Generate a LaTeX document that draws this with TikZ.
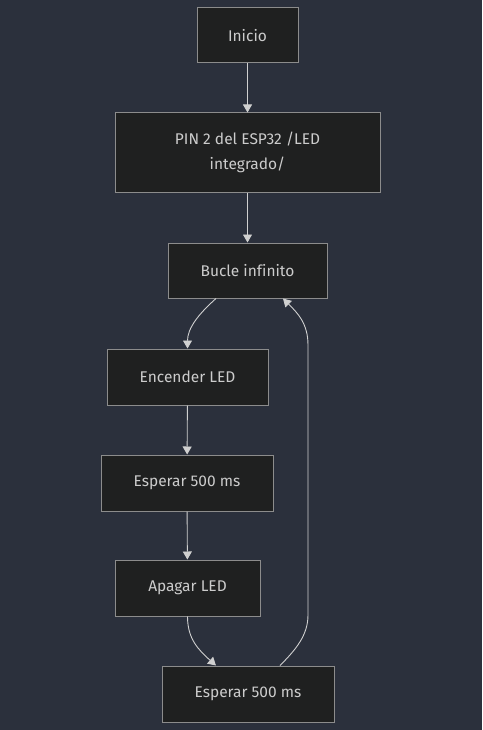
\documentclass[tikz,border=0pt]{standalone}
\usepackage{fontspec}
\setmainfont{Fira Sans}[Ligatures=NoCommon]
\usetikzlibrary{arrows.meta}
\definecolor{bgc}{HTML}{2B303C}
\definecolor{nodefill}{HTML}{1F2020}
\definecolor{nodeline}{HTML}{8C8C8C}
\definecolor{txt}{HTML}{CCCCCC}
\definecolor{edge}{HTML}{D0D0D0}
\begin{document}
\begin{tikzpicture}[x=1pt,y=-1pt,
  box/.style={draw=nodeline,fill=nodefill,line width=1pt,text=txt,inner sep=0pt,
    font=\fontsize{15.5}{25}\selectfont,align=center},
  link/.style={draw=edge,line width=0.9pt,-{Triangle[length=8pt,width=9pt]}}]
\fill[bgc] (0,0) rectangle (482,730);
\useasboundingbox (0,0) rectangle (482,730);
\node[box,minimum width=101pt,minimum height=55pt] (inicio) at (247.5,35.5) {Inicio};
\node[box,minimum width=265pt,minimum height=79pt] (pin) at (247.5,152.5) {PIN 2 del ESP32 /LED\\integrado/};
\node[box,minimum width=159pt,minimum height=55pt] (bucle) at (247.5,270.5) {Bucle infinito};
\node[box,minimum width=161pt,minimum height=56pt] (enc) at (187.5,377) {Encender LED};
\node[box,minimum width=172pt,minimum height=56pt] (esp1) at (187,483) {Esperar 500 ms};
\node[box,minimum width=145pt,minimum height=56pt] (apa) at (187.5,588) {Apagar LED};
\node[box,minimum width=172pt,minimum height=56pt] (esp2) at (248,694) {Esperar 500 ms};
\draw[link] (inicio) -- (pin);
\draw[link] (pin) -- (bucle);
\draw[link] ([xshift=-31.5pt]bucle.south) .. controls +(-18,16) and +(0,-20) .. (enc.north);
\draw[link] (enc) -- (esp1);
\draw[link] (esp1) -- (apa);
\draw[link] (apa.south) .. controls +(0,22) and +(-18,-16) .. ([xshift=-32pt]esp2.north);
\coordinate (r1) at (308,615);
\coordinate (r2) at (308,345);
\draw[link] ([xshift=32pt]esp2.north) .. controls +(16,-16) and +(0,20) .. (r1) -- (r2) .. controls +(0,-22) and +(14,14) .. ([xshift=35.5pt]bucle.south);
\end{tikzpicture}
\end{document}
